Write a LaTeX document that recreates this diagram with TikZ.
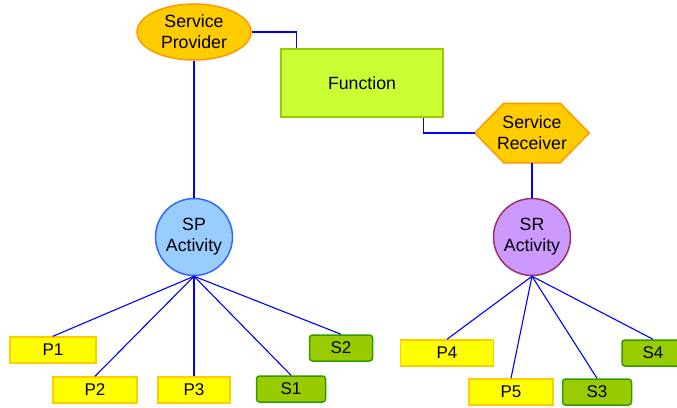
\documentclass[tikz,border=0pt]{standalone}
\usepackage{fontspec}
\setmainfont{Liberation Sans}
\usetikzlibrary{shapes.geometric,backgrounds}
\definecolor{provfill}{HTML}{FFCC00}
\definecolor{provline}{HTML}{FF9900}
\definecolor{funcfill}{HTML}{CCFF33}
\definecolor{funcline}{HTML}{99CC00}
\definecolor{spfill}{HTML}{99CCFF}
\definecolor{spline}{HTML}{3366FF}
\definecolor{srfill}{HTML}{CC99FF}
\definecolor{srline}{HTML}{993366}
\definecolor{pfill}{HTML}{FFFF00}
\definecolor{pline}{HTML}{FFCC00}
\definecolor{sfill}{HTML}{99CC00}
\definecolor{sline}{HTML}{339900}
\definecolor{link}{HTML}{0000FF}

\begin{document}
\begin{tikzpicture}[x=1pt, y=-1pt]
    \tikzset{%
      txt/.style={font=\fontsize{17.7}{21}\selectfont, align=center,
        inner sep=0pt, line width=1.5pt},
      prov/.style={txt, ellipse, draw=provline, fill=provfill,
        minimum width=114pt, minimum height=56pt},
      recv/.style={txt, rectangle, minimum width=113pt, minimum height=58pt},
      func/.style={txt, rectangle, draw=funcline, fill=funcfill,
        minimum width=162pt, minimum height=68pt},
      act/.style={txt, circle, minimum size=77pt},
      pbox/.style={txt, font=\fontsize{17}{20}\selectfont, rectangle,
        draw=pline, fill=pfill, minimum height=26pt},
      sbox/.style={txt, font=\fontsize{17}{20}\selectfont, rectangle,
        rounded corners=3pt, draw=sline, fill=sfill, minimum height=26pt},
      wire/.style={link, line width=1.1pt},
    }
    \useasboundingbox (0,0) rectangle (677,407);
    \clip (0,0) rectangle (677,407);

    \node[prov] (SPv) at (194,32) {Service\\Provider};
    \node[func] (Fn) at (362,83) {Function};
    \node[recv] (SRv) at (532,133) {Service\\Receiver};
    % hexagon behind the receiver text
    \begin{scope}[on background layer]
      \filldraw [draw=provline, fill=provfill, line width=1.5pt]
        (SRv.west) -- ([xshift=29pt]SRv.north west)
        -- ([xshift=-29pt]SRv.north east) -- (SRv.east)
        -- ([xshift=-29pt]SRv.south east)
        -- ([xshift=29pt]SRv.south west) -- cycle;
    \end{scope}

    \node[act, draw=spline, fill=spfill] (SPa) at (194,237) {SP\\Activity};
    \node[act, draw=srline, fill=srfill] (SRa) at (532,237) {SR\\Activity};

    \draw [wire] (SPv.east) -| ([xshift=16pt]Fn.north west);
    \draw [wire] ([xshift=-20pt]Fn.south east) |- (SRv.west);
    \draw [wire] (SPv.south) -- (SPa.north);
    \draw [wire] (SRv.south) -- (SRa.north);

    % provider side
    \node[pbox, minimum width=86pt] (P1) at (53,350) {P1};
    \node[pbox, minimum width=84pt] (P2) at (95,390) {P2};
    \node[pbox, minimum width=72pt] (P3) at (194,390) {P3};
    \node[sbox, minimum width=69pt] (S1) at (291,389) {S1};
    \node[sbox, minimum width=63pt] (S2) at (341,348) {S2};
    \foreach \n in {P1,P2,P3,S1,S2}
      \draw [wire] (SPa.south) -- (\n.north);

    % receiver side
    \node[pbox, minimum width=93pt] (P4) at (447,353) {P4};
    \node[pbox, minimum width=84pt] (P5) at (511,392) {P5};
    \node[sbox, minimum width=69pt] (S3) at (597,392) {S3};
    \node[sbox, minimum width=62pt] (S4) at (653,353) {S4};
    \foreach \n in {P4,P5,S3,S4}
      \draw [wire] (SRa.south) -- (\n.north);
\end{tikzpicture}
\end{document}
